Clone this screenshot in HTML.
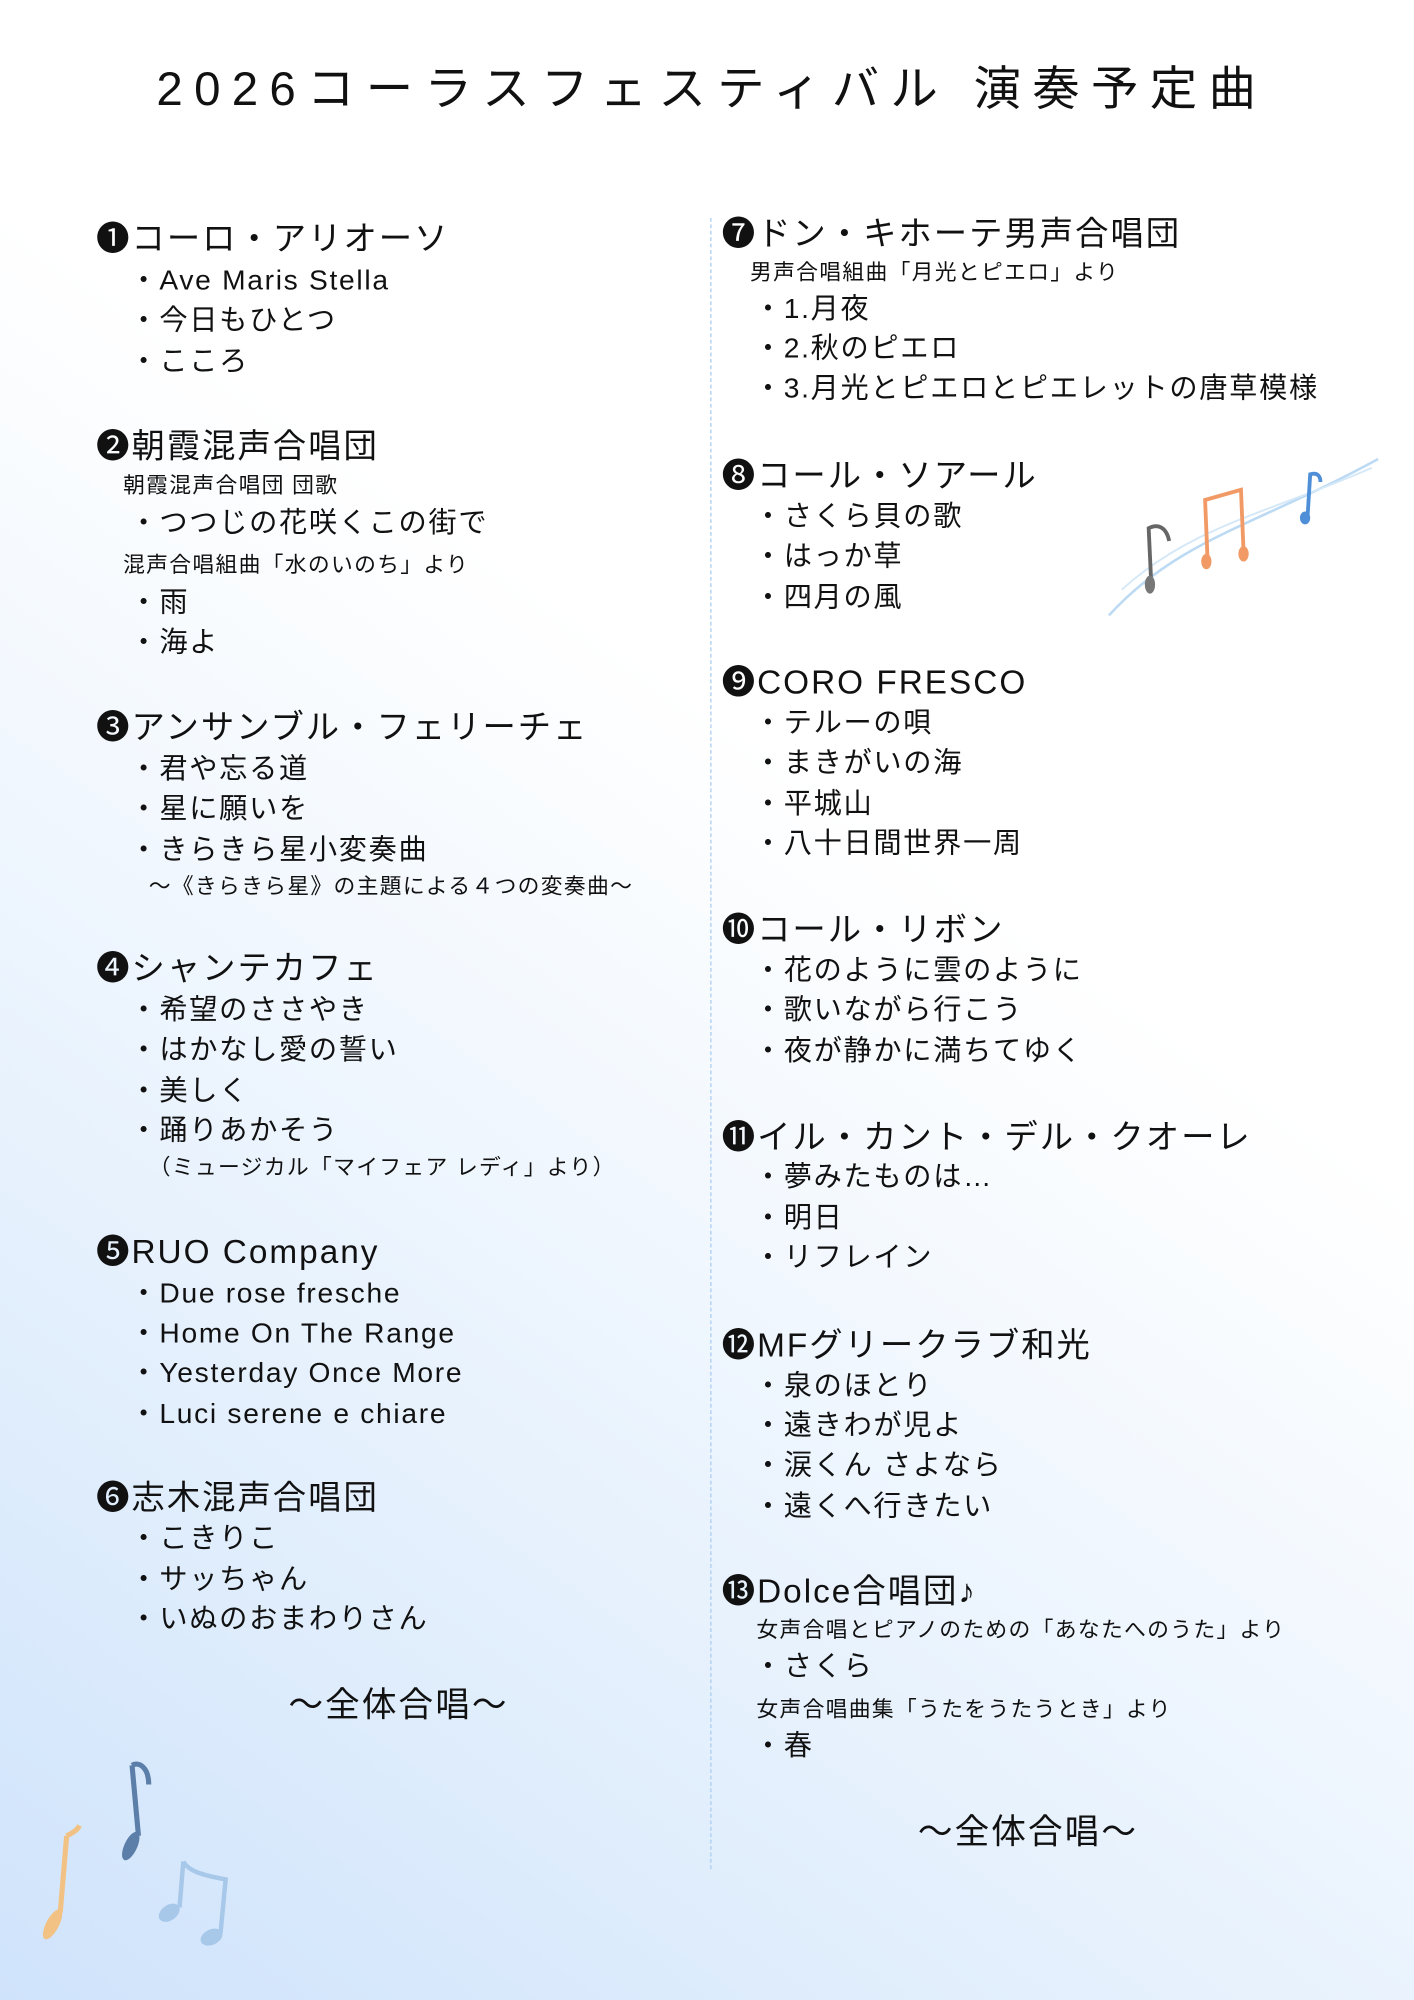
<!DOCTYPE html>
<html><head><meta charset="utf-8">
<style>
html,body{margin:0;padding:0;}
body{width:1414px;height:2000px;overflow:hidden;position:relative;
background:linear-gradient(35deg,#cfe3fb 0%,#e6f1fd 28%,#ffffff 60%,#ffffff 100%);}
#c{position:absolute;left:0;top:0;width:1103px;height:1560px;transform:scale(1.282);transform-origin:0 0;
font-family:"Liberation Sans","Noto Sans CJK JP",sans-serif;color:#111;}
#c div{position:absolute;white-space:nowrap;line-height:1;letter-spacing:0.06em;}
.h{font-size:26px;}
.i{font-size:22px;}
.s{font-size:17px;}
.t{font-size:37px;letter-spacing:8.8px !important;}
.z{font-size:27px;}
</style></head><body>
<div id="c">
<div class="t" style="left:122px;top:51px;">2026コーラスフェスティバル 演奏予定曲</div>

<div class="h" style="left:75px;top:173px">❶コーロ・アリオーソ</div>
<div class="i" style="left:101px;top:208px">・Ave Maris Stella</div>
<div class="i" style="left:101px;top:239px">・今日もひとつ</div>
<div class="i" style="left:101px;top:271px">・こころ</div>

<div class="h" style="left:75px;top:335px">❷朝霞混声合唱団</div>
<div class="s" style="left:96px;top:370px">朝霞混声合唱団 団歌</div>
<div class="i" style="left:101px;top:397px">・つつじの花咲くこの街で</div>
<div class="s" style="left:96px;top:432px">混声合唱組曲「水のいのち」より</div>
<div class="i" style="left:101px;top:459px">・雨</div>
<div class="i" style="left:101px;top:490px">・海よ</div>

<div class="h" style="left:75px;top:554px">❸アンサンブル・フェリーチェ</div>
<div class="i" style="left:101px;top:589px">・君や忘る道</div>
<div class="i" style="left:101px;top:620px">・星に願いを</div>
<div class="i" style="left:101px;top:652px">・きらきら星小変奏曲</div>
<div class="s" style="left:116px;top:683px">～《きらきら星》の主題による４つの変奏曲～</div>

<div class="h" style="left:75px;top:742px">❹シャンテカフェ</div>
<div class="i" style="left:101px;top:777px">・希望のささやき</div>
<div class="i" style="left:101px;top:808px">・はかなし愛の誓い</div>
<div class="i" style="left:101px;top:840px">・美しく</div>
<div class="i" style="left:101px;top:871px">・踊りあかそう</div>
<div class="s" style="left:116px;top:902px">（ミュージカル「マイフェア レディ」より）</div>

<div class="h" style="left:75px;top:963px">❺RUO Company</div>
<div class="i" style="left:101px;top:998px">・Due rose fresche</div>
<div class="i" style="left:101px;top:1029px">・Home On The Range</div>
<div class="i" style="left:101px;top:1060px">・Yesterday Once More</div>
<div class="i" style="left:101px;top:1092px">・Luci serene e chiare</div>

<div class="h" style="left:75px;top:1155px">❻志木混声合唱団</div>
<div class="i" style="left:101px;top:1189px">・こきりこ</div>
<div class="i" style="left:101px;top:1221px">・サッちゃん</div>
<div class="i" style="left:101px;top:1252px">・いぬのおまわりさん</div>

<div class="z" style="left:225px;top:1317px">～全体合唱～</div>

<div style="left:554px;top:170px;height:1288px;border-left:1px dashed #a9cdf0;"></div>

<div class="h" style="left:563px;top:169px">❼ドン・キホーテ男声合唱団</div>
<div class="s" style="left:585px;top:204px">男声合唱組曲「月光とピエロ」より</div>
<div class="i" style="left:588px;top:230px">・1.月夜</div>
<div class="i" style="left:588px;top:261px">・2.秋のピエロ</div>
<div class="i" style="left:588px;top:292px">・3.月光とピエロとピエレットの唐草模様</div>

<div class="h" style="left:563px;top:358px">❽コール・ソアール</div>
<div class="i" style="left:588px;top:392px">・さくら貝の歌</div>
<div class="i" style="left:588px;top:423px">・はっか草</div>
<div class="i" style="left:588px;top:455px">・四月の風</div>

<div class="h" style="left:563px;top:519px">❾CORO FRESCO</div>
<div class="i" style="left:588px;top:553px">・テルーの唄</div>
<div class="i" style="left:588px;top:584px">・まきがいの海</div>
<div class="i" style="left:588px;top:616px">・平城山</div>
<div class="i" style="left:588px;top:647px">・八十日間世界一周</div>

<div class="h" style="left:563px;top:712px">❿コール・リボン</div>
<div class="i" style="left:588px;top:746px">・花のように雲のように</div>
<div class="i" style="left:588px;top:777px">・歌いながら行こう</div>
<div class="i" style="left:588px;top:809px">・夜が静かに満ちてゆく</div>

<div class="h" style="left:563px;top:874px">⓫イル・カント・デル・クオーレ</div>
<div class="i" style="left:588px;top:907px">・夢みたものは…</div>
<div class="i" style="left:588px;top:939px">・明日</div>
<div class="i" style="left:588px;top:970px">・リフレイン</div>

<div class="h" style="left:563px;top:1036px">⓬MFグリークラブ和光</div>
<div class="i" style="left:588px;top:1070px">・泉のほとり</div>
<div class="i" style="left:588px;top:1101px">・遠きわが児よ</div>
<div class="i" style="left:588px;top:1132px">・涙くん さよなら</div>
<div class="i" style="left:588px;top:1164px">・遠くへ行きたい</div>

<div class="h" style="left:563px;top:1228px">⓭Dolce合唱団♪</div>
<div class="s" style="left:590px;top:1263px">女声合唱とピアノのための「あなたへのうた」より</div>
<div class="i" style="left:588px;top:1289px">・さくら</div>
<div class="s" style="left:590px;top:1325px">女声合唱曲集「うたをうたうとき」より</div>
<div class="i" style="left:588px;top:1351px">・春</div>

<div class="z" style="left:716px;top:1416px">～全体合唱～</div>

<svg style="position:absolute;left:860px;top:350px" width="220" height="140" viewBox="0 0 220 140">
<path d="M5 130 C60 70 120 60 215 8" stroke="#bcdaf3" stroke-width="2" fill="none"/>
<path d="M15 110 C70 60 130 50 210 15" stroke="#d5e8f8" stroke-width="1.5" fill="none"/>
<path d="M38 105 L36 62 C44 58 50 62 52 72" stroke="#666" stroke-width="3" fill="none"/>
<ellipse cx="37" cy="106" rx="4" ry="7" fill="#777"/>
<path d="M82 88 L80 40 L108 32 L110 80" stroke="#f19a66" stroke-width="3" fill="none"/>
<ellipse cx="81" cy="88" rx="4" ry="6" fill="#f19a66"/>
<ellipse cx="110" cy="82" rx="4" ry="6" fill="#f19a66"/>
<path d="M160 52 L162 20 C168 18 170 22 170 26" stroke="#4e8fd8" stroke-width="3" fill="none"/>
<ellipse cx="158" cy="54" rx="4" ry="5" fill="#4e8fd8"/>
</svg>
<svg style="position:absolute;left:20px;top:1360px" width="180" height="170" viewBox="0 0 180 170">
<path d="M83 17 L88 72 M83 17 C88 14 96 18 96 32" stroke="#5b7fa8" stroke-width="4" fill="none"/>
<ellipse cx="82" cy="80" rx="5" ry="12" transform="rotate(25 82 80)" fill="#5b7fa8"/>
<path d="M32 72 L27 132 M32 72 C36 70 40 68 42 64" stroke="#f2c285" stroke-width="4" fill="none"/>
<ellipse cx="21" cy="141" rx="5" ry="13" transform="rotate(28 21 141)" fill="#f2c285"/>
<path d="M123 92 L120 128 M123 92 C127 100 140 103 156 106 L152 148" stroke="#a8c8ea" stroke-width="3.5" fill="none"/>
<ellipse cx="112" cy="132" rx="9" ry="6" transform="rotate(-35 112 132)" fill="#a8c8ea"/>
<ellipse cx="145" cy="151" rx="9" ry="6" transform="rotate(-25 145 151)" fill="#a8c8ea"/>
</svg>
</div>
</body></html>
